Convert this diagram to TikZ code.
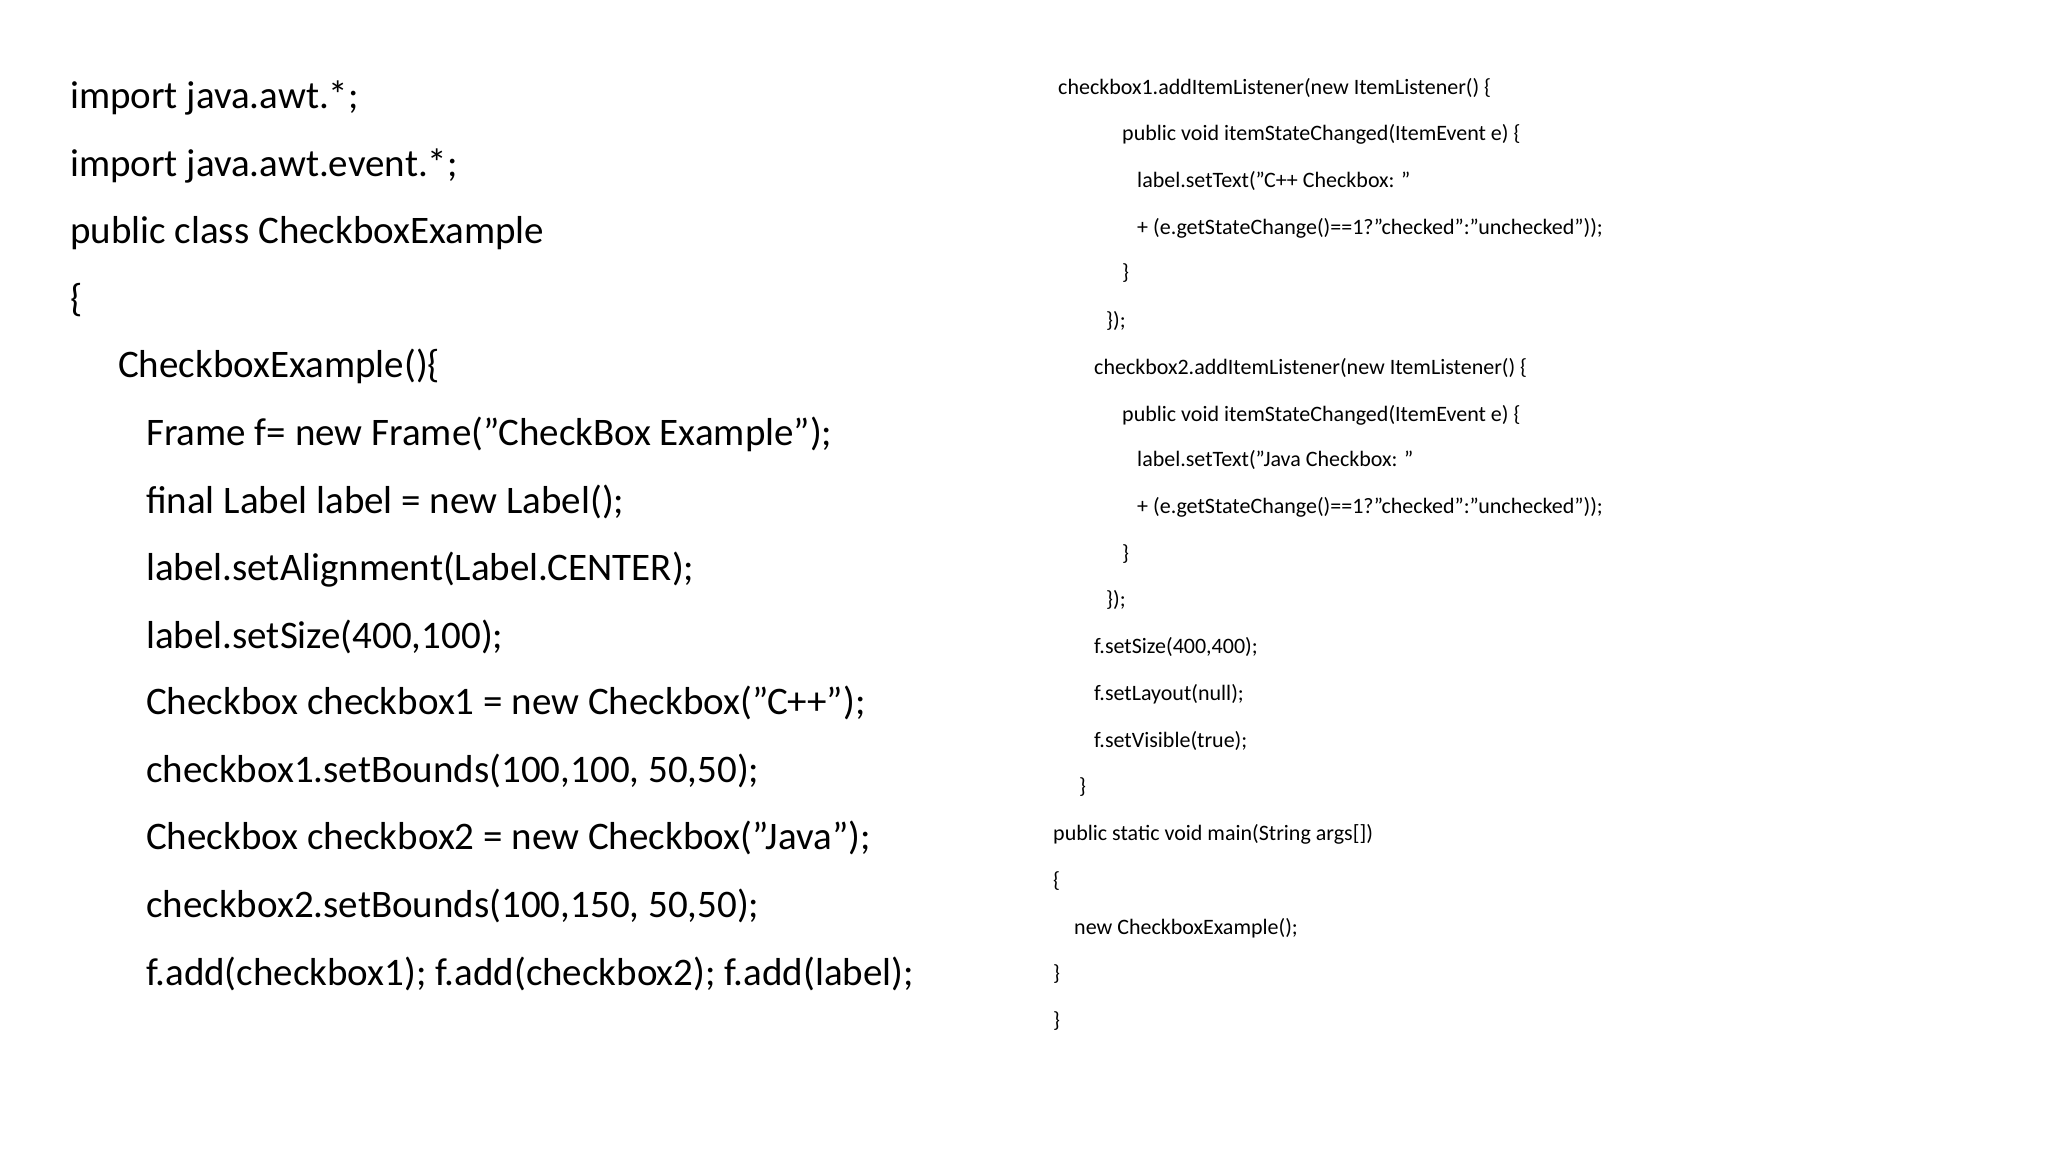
\documentclass[tikz,border=0pt]{standalone}
\usepackage{fontspec}
\setmainfont{Carlito}
\begin{document}
\begin{tikzpicture}[x=1pt,y=-1pt,
 big/.style={anchor=base west,inner sep=0pt,font=\fontsize{39}{40}\selectfont},
 small/.style={anchor=base west,inner sep=0pt,font=\fontsize{22}{23}\selectfont}]
\useasboundingbox[fill=white] (0,0) rectangle (2048,1152);
\node[big] (l1) at (70,108) {import java.awt.*;};
\node[big] (l2) at (70,176) {import java.awt.event.*;};
\node[big] (l3) at (70,243) {public class CheckboxExample};
\node[big] (l4) at (70,311) {\{};
\node[big] (l5) at (118,377) {CheckboxExample()\{};
\node[big] (l6) at (146,445) {Frame f= new Frame("CheckBox Example");};
\node[big] (l7) at (146,513) {final Label label = new Label();};
\node[big] (l8) at (146,580) {label.setAlignment(Label.CENTER);};
\node[big] (l9) at (146,648) {label.setSize(400,100);};
\node[big] (l10) at (146,714) {Checkbox checkbox1 = new Checkbox("C++");};
\node[big] (l11) at (146,782) {checkbox1.setBounds(100,100, 50,50);};
\node[big] (l12) at (146,849) {Checkbox checkbox2 = new Checkbox("Java");};
\node[big] (l13) at (146,917) {checkbox2.setBounds(100,150, 50,50);};
\node[big] (l14) at (146,985) {f.add(checkbox1); f.add(checkbox2); f.add(label);};
\node[small] (r1) at (1058,94) {checkbox1.addItemListener(new ItemListener() \{};
\node[small] (r2) at (1122,140) {public void itemStateChanged(ItemEvent e) \{};
\node[small] (r3) at (1137,187) {label.setText("C++ Checkbox: "};
\node[small] (r4) at (1137,234) {+ (e.getStateChange()==1?"checked":"unchecked"));};
\node[small] (r5) at (1122,279) {\}};
\node[small] (r6) at (1106,327) {\});};
\node[small] (r7) at (1094,374) {checkbox2.addItemListener(new ItemListener() \{};
\node[small] (r8) at (1122,421) {public void itemStateChanged(ItemEvent e) \{};
\node[small] (r9) at (1137,466) {label.setText("Java Checkbox: "};
\node[small] (r10) at (1137,513) {+ (e.getStateChange()==1?"checked":"unchecked"));};
\node[small] (r11) at (1122,560) {\}};
\node[small] (r12) at (1106,606) {\});};
\node[small] (r13) at (1094,653) {f.setSize(400,400);};
\node[small] (r14) at (1094,700) {f.setLayout(null);};
\node[small] (r15) at (1094,747) {f.setVisible(true);};
\node[small] (r16) at (1079,793) {\}};
\node[small] (r17) at (1053,840) {public static void main(String args[])};
\node[small] (r18) at (1053,887) {\{};
\node[small] (r19) at (1074,934) {new CheckboxExample();};
\node[small] (r20) at (1053,980) {\}};
\node[small] (r21) at (1053,1027) {\}};
\end{tikzpicture}
\end{document}
